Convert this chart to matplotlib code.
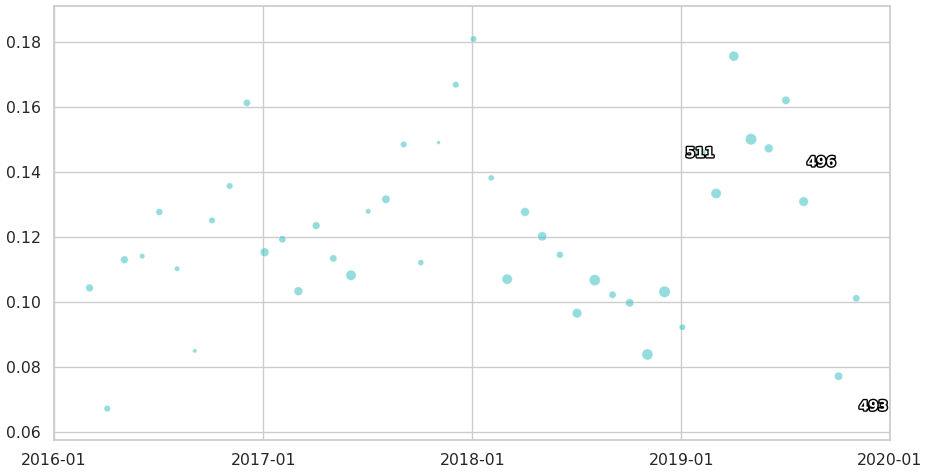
import matplotlib
matplotlib.use("Agg")
import matplotlib.pyplot as plt
import matplotlib.dates as mdates
import matplotlib.patheffects as pe
import seaborn as sns
import numpy as np
import pandas as pd

sns.set_theme(style="whitegrid")

# monthly observations, Mar 2016 .. Dec 2019
dates = pd.date_range("2016-03-01", "2019-12-01", freq="MS")

values = [
    0.1043, 0.0671, 0.1130, 0.1141, 0.1277, 0.1102, 0.0849, 0.1251, 0.1357, 0.1613,
    0.1153, 0.1193, 0.1033, 0.1235, 0.1134, 0.1082, 0.1279, 0.1316, 0.1485, 0.1121,
    0.1491, 0.1669, 0.1810, 0.1382, 0.1070, 0.1277, 0.1202, 0.1145, 0.0965, 0.1067,
    0.1022, 0.0997, 0.0838, 0.1031, 0.0922, 0.1458, 0.1334, 0.1757, 0.1501, 0.1473,
    0.1621, 0.1309, 0.1430, 0.0771, 0.1011, 0.0678,
]

counts = [
    225, 160, 225, 110, 180, 110, 70, 160, 160, 200,
    295, 200, 295, 225, 200, 405, 110, 265, 160, 140,
    55, 160, 160, 140, 405, 295, 320, 180, 345, 470,
    200, 265, 470, 500, 160, 511, 405, 380, 500, 295,
    265, 345, 496, 265, 200, 493,
]

# points that get their count written on them
labelled = {"2019-02-01": 511, "2019-09-01": 496, "2019-12-01": 493}

fig = plt.figure(figsize=(9.32, 4.76), dpi=100)
ax = fig.add_axes([0.058, 0.076, 0.897, 0.911])

ax.scatter(dates + pd.Timedelta(days=2), values, s=np.array(counts) * 0.135,
           color="#3fc1c1", alpha=0.55, edgecolor="white", linewidth=0.5, zorder=3)

for d, n in labelled.items():
    i = list(dates).index(pd.Timestamp(d))
    ax.text(dates[i] + pd.Timedelta(days=2), values[i], str(n), ha="center", va="center",
            fontsize=10, fontweight="bold", color="white", zorder=4,
            path_effects=[pe.withStroke(linewidth=2, foreground="black")])

ax.set_xlim(pd.Timestamp("2016-01-01"), pd.Timestamp("2020-01-01"))
ax.set_ylim(0.0575, 0.1911)
ax.set_yticks([0.06, 0.08, 0.10, 0.12, 0.14, 0.16, 0.18])
ax.yaxis.set_major_formatter(matplotlib.ticker.FormatStrFormatter("%.2f"))
ax.xaxis.set_major_locator(mdates.YearLocator())
ax.xaxis.set_major_formatter(mdates.DateFormatter("%Y-%m"))
ax.tick_params(labelsize=11.3)

fig.savefig("out.png", dpi=100)
